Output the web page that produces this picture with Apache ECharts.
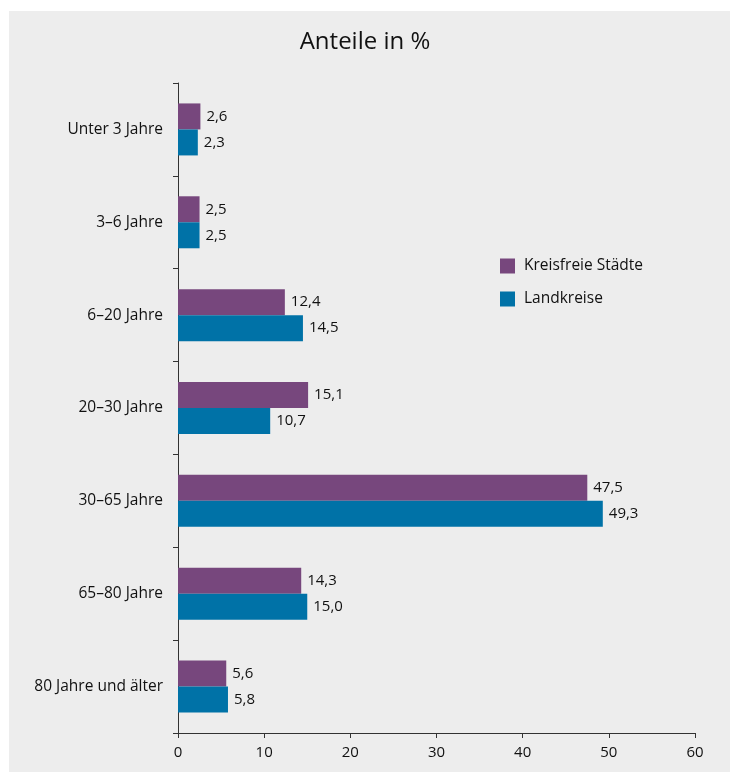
<!DOCTYPE html>
<html>
<head>
<meta charset="utf-8">
<script src="https://cdn.jsdelivr.net/npm/echarts@6/dist/echarts.min.js"></script>
<style>
html,body{margin:0;padding:0;background:#fff;}
#c{width:730px;height:773px;}
</style>
</head>
<body>
<div id="c"></div>
<script>
const categories = ['Unter 3 Jahre','3–6 Jahre','6–20 Jahre','20–30 Jahre','30–65 Jahre','65–80 Jahre','80 Jahre und älter'];
const kreisfreieStaedte = [2.6, 2.5, 12.4, 15.1, 47.5, 14.3, 5.6];
const landkreise = [2.3, 2.5, 14.5, 10.7, 49.3, 15.0, 5.8];
const seriesNames = ['Kreisfreie Städte', 'Landkreise'];
const titleText = 'Anteile in %';

const font = '"Open Sans", "Noto Sans", sans-serif';
const chart = echarts.init(document.getElementById('c'), null, {renderer: 'canvas'});
const fmt = p => p.value.toFixed(1).replace('.', ',');
chart.setOption({
  backgroundColor: '#fff',
  textStyle: {fontFamily: font},
  graphic: [{type: 'rect', z: -10, silent: true, shape: {x: 9, y: 11, width: 721, height: 761}, style: {fill: '#ededed'}}],
  title: {text: titleText, left: 'center', top: 25, textStyle: {fontFamily: font, fontSize: 24, fontWeight: 'normal', color: '#111'}},
  legend: {
    orient: 'vertical', left: 500, top: 258, padding: 0, itemWidth: 15, itemHeight: 15, itemGap: 17,
    icon: 'rect',
    textStyle: {fontFamily: font, fontSize: 15.5, color: '#111', padding: [0, 0, 0, 4]},
    data: seriesNames
  },
  grid: {left: 178, right: 35, top: 83, bottom: 40, containLabel: false},
  xAxis: {
    type: 'value', min: 0, max: 60, interval: 10,
    axisLine: {show: true, lineStyle: {color: '#333', width: 1}},
    axisTick: {show: true, length: 5, lineStyle: {color: '#333'}},
    splitLine: {show: false},
    axisLabel: {fontFamily: font, fontSize: 15, color: '#111', margin: 12}
  },
  yAxis: {
    type: 'category', data: categories, inverse: true,
    axisLine: {show: true, lineStyle: {color: '#333', width: 1}},
    axisTick: {show: true, length: 5, lineStyle: {color: '#333'}},
    axisLabel: {fontFamily: font, fontSize: 15.5, color: '#111', margin: 15}
  },
  series: [
    {name: seriesNames[0], type: 'bar', data: kreisfreieStaedte, itemStyle: {color: '#77477d'}, barGap: '0%', barCategoryGap: '44%',
     label: {show: true, position: 'right', distance: 6, formatter: fmt, fontFamily: font, fontSize: 15, color: '#111'}},
    {name: seriesNames[1], type: 'bar', data: landkreise, itemStyle: {color: '#0072a7'}, barGap: '0%', barCategoryGap: '44%',
     label: {show: true, position: 'right', distance: 6, formatter: fmt, fontFamily: font, fontSize: 15, color: '#111'}}
  ]
});
</script>
</body>
</html>
